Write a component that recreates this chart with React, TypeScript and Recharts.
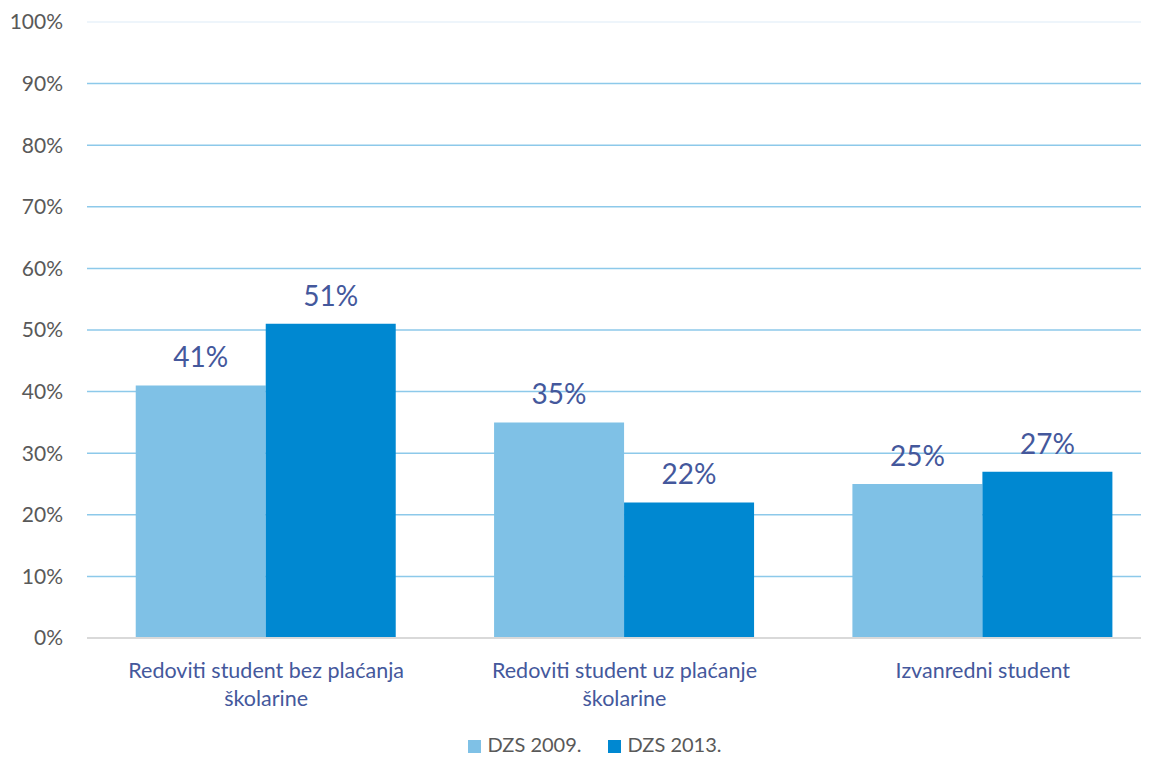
import React from 'react';
import {
    BarChart,
    Bar,
    XAxis,
    YAxis,
    CartesianGrid,
    Legend,
    LabelList,
    ReferenceLine
} from 'recharts';

const categories = [
    'Redoviti student bez plaćanja školarine',
    'Redoviti student uz plaćanje školarine',
    'Izvanredni student'
];
const dzs2009 = [41, 35, 25];
const dzs2013 = [51, 22, 27];
const yTicks = [0, 10, 20, 30, 40, 50, 60, 70, 80, 90, 100];

const data = categories.map((name, i) => ({
    name,
    a: dzs2009[i],
    b: dzs2013[i]
}));

const FONT = 'Lato, "Open Sans", sans-serif';

// greedy word wrap, Excel breaks these at about 30 chars
const wrap = (s: string, max = 30) => {
    const lines: string[] = [];
    let cur = '';
    s.split(' ').forEach((w) => {
        const next = cur ? cur + ' ' + w : w;
        if (next.length > max && cur) {
            lines.push(cur);
            cur = w;
        } else {
            cur = next;
        }
    });
    if (cur) lines.push(cur);
    return lines;
};

const CategoryTick = (props: any) => {
    const { x, y, payload } = props;
    return (
        <text
            x={x}
            y={y + 40}
            textAnchor="middle"
            fill="#44589c"
            style={{ fontSize: 21.5, fontFamily: FONT }}
        >
            {wrap(payload.value).map((line, i) => (
                <tspan key={i} x={x} dy={i === 0 ? 0 : 28}>
                    {line}
                </tspan>
            ))}
        </text>
    );
};

const App: React.FC = () => {
    return (
        <div style={{ position: 'absolute', left: 0, top: 0, background: '#fff' }}>
            <BarChart
                width={1153}
                height={758}
                data={data}
                margin={{ top: 22, right: 12, left: 0, bottom: 0 }}
                barCategoryGap="13.6%"
                barGap={0}
            >
                <CartesianGrid vertical={false} stroke="#8dc9ea" strokeWidth={1.5} />
                <ReferenceLine y={100} stroke="#eef5fb" strokeWidth={2} />
                <XAxis
                    dataKey="name"
                    height={94}
                    padding={{ left: 0, right: -21 }}
                    tickLine={false}
                    tickSize={0}
                    tickMargin={0}
                    axisLine={{ stroke: '#d9d9d9', strokeWidth: 2 }}
                    tick={<CategoryTick />}
                    interval={0}
                />
                <YAxis
                    width={87}
                    domain={[0, 100]}
                    ticks={yTicks}
                    tickFormatter={(v) => `${v}%`}
                    axisLine={false}
                    tickLine={false}
                    tickSize={0}
                    tickMargin={24}
                    tick={{ fontSize: 21, fill: '#595959', fontFamily: FONT }}
                />
                <Legend
                    verticalAlign="bottom"
                    height={26}
                    iconType="square"
                    iconSize={13}
                    wrapperStyle={{ fontFamily: FONT, fontSize: 20, left: 37 }}
                    formatter={(value) => (
                        <span style={{ color: '#595959', marginLeft: 3, marginRight: 16 }}>{value}</span>
                    )}
                />
                <Bar dataKey="a" name="DZS 2009." fill="#7fc1e6" isAnimationActive={false}>
                    <LabelList
                        dataKey="a"
                        position="top"
                        offset={18}
                        formatter={(v: any) => `${v}%`}
                        style={{ fontSize: 28, fill: '#44589c', fontFamily: FONT }}
                    />
                </Bar>
                <Bar dataKey="b" name="DZS 2013." fill="#0088d1" isAnimationActive={false}>
                    <LabelList
                        dataKey="b"
                        position="top"
                        offset={18}
                        formatter={(v: any) => `${v}%`}
                        style={{ fontSize: 28, fill: '#44589c', fontFamily: FONT }}
                    />
                </Bar>
            </BarChart>
        </div>
    );
};

export default App;
